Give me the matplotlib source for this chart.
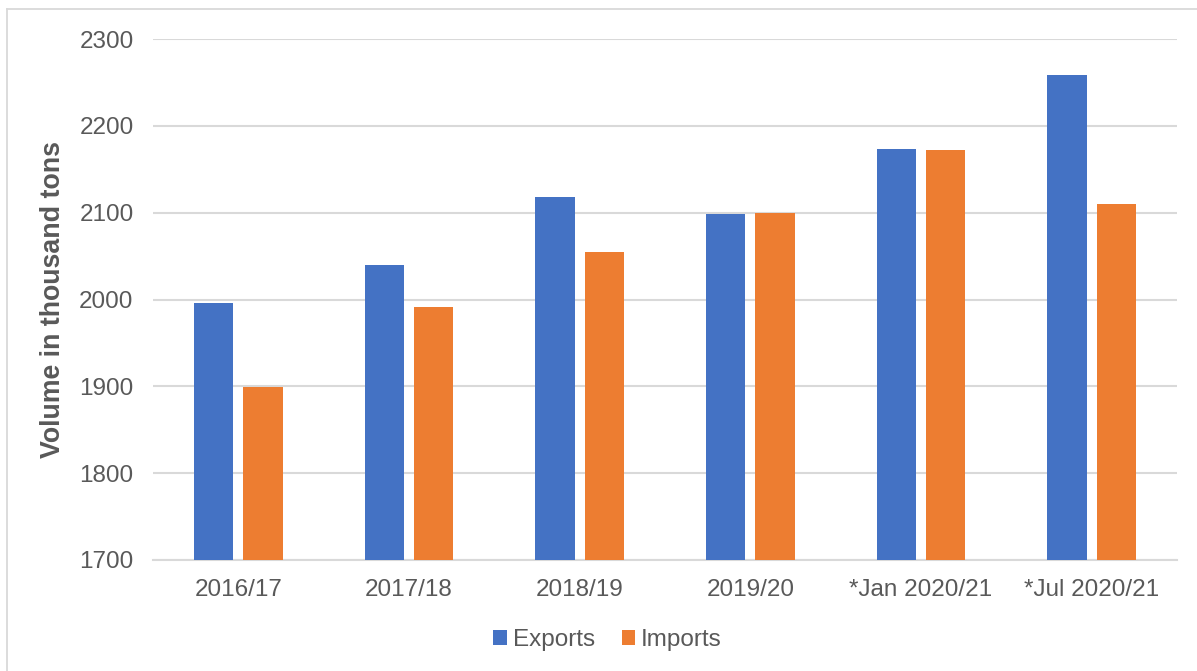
import matplotlib
matplotlib.use("Agg")
import matplotlib.pyplot as plt
import numpy as np
from matplotlib.lines import Line2D

categories = ["2016/17", "2017/18", "2018/19", "2019/20", "*Jan 2020/21", "*Jul 2020/21"]
exports = [1996, 2040, 2118, 2099, 2173, 2258]
imports = [1899, 1991, 2055, 2100, 2172, 2110]
yticks = [1700, 1800, 1900, 2000, 2100, 2200, 2300]

plt.rcParams['font.family'] = ['Liberation Sans', 'DejaVu Sans']
txt = '#595959'
grid = '#d9d9d9'

fig = plt.figure(figsize=(11.97, 6.71), dpi=100)
ax = fig.add_axes([153/1197, 1-560/671, (1177-153)/1197, (560-39)/671])

x = np.arange(len(categories))
w = 0.23
off = 0.144
ax.bar(x - off, exports, width=w, color='#4472C4', label='Exports', zorder=3)
ax.bar(x + off, imports, width=w, color='#ED7D31', label='Imports', zorder=3)

ax.set_xlim(-0.5, len(categories) - 0.5)
ax.set_ylim(1700, 2300)
ax.set_yticks(yticks)
ax.set_yticklabels([str(v) for v in yticks])
ax.set_xticks(x)
ax.set_xticklabels(categories)
ax.yaxis.grid(True, color=grid, linewidth=1.5, zorder=0)
ax.set_axisbelow(True)
for s in ['top', 'right', 'left']:
    ax.spines[s].set_visible(False)
ax.spines['bottom'].set_color(grid)
ax.spines['bottom'].set_linewidth(1.5)
ax.tick_params(axis='both', length=0, labelsize=17.5, colors=txt)
ax.tick_params(axis='y', pad=14)
ax.tick_params(axis='x', pad=14)
ax.set_ylabel('Volume in thousand tons', fontsize=19.3, fontweight='bold', color=txt)
ax.yaxis.set_label_coords(-(153-66)/1024, 0.5)

leg = fig.legend(loc='center', bbox_to_anchor=(0.5 + 9/1197, 1-640/671), ncol=2, frameon=False,
                 fontsize=17.5, handlelength=0.55, handleheight=0.55, handletextpad=0.25,
                 columnspacing=1.1, labelcolor=txt)

fig.add_artist(Line2D([7/1197, 1], [1-9/671, 1-9/671], transform=fig.transFigure,
                      color=grid, linewidth=1.3))
fig.add_artist(Line2D([7/1197, 7/1197], [0, 1-9/671], transform=fig.transFigure,
                      color=grid, linewidth=1.3))

fig.savefig('out.png', dpi=100, facecolor='white')
